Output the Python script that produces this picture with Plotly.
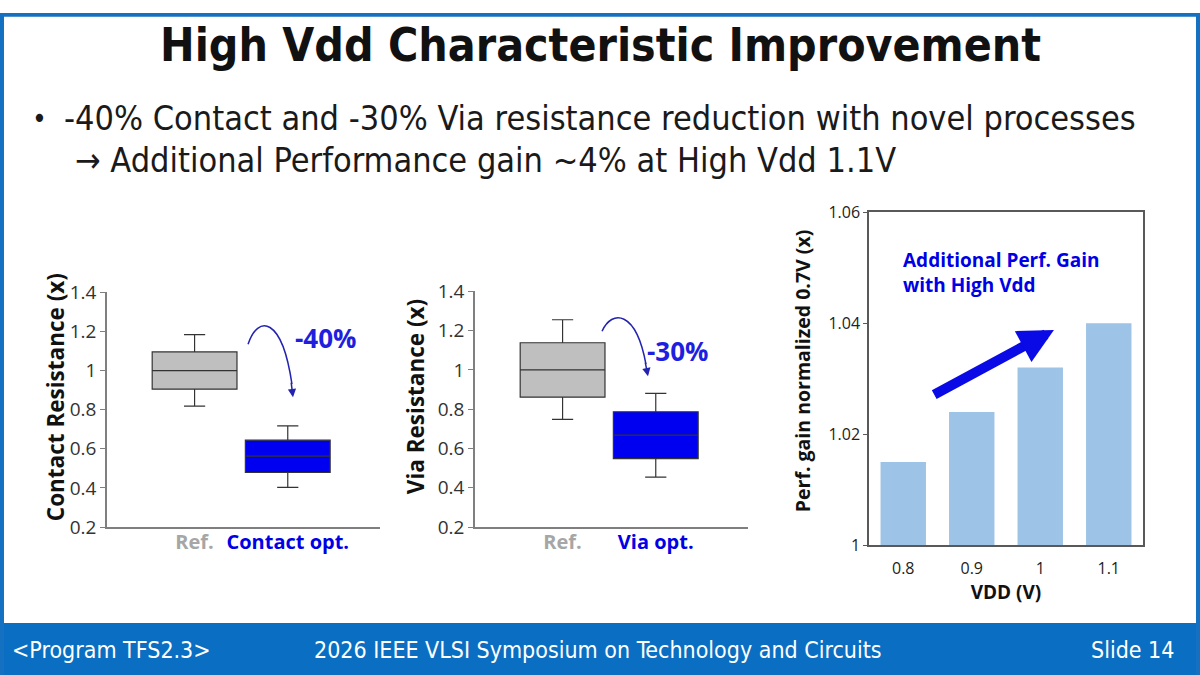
import plotly.graph_objects as go

# ---- data ----
contact_groups = ["Ref.", "Contact opt."]
contact_lower = [0.818, 0.403]
contact_q1 = [0.905, 0.479]
contact_median = [1.0, 0.563]
contact_q3 = [1.095, 0.644]
contact_upper = [1.184, 0.717]

via_groups = ["Ref.", "Via opt."]
via_lower = [0.748, 0.454]
via_q1 = [0.861, 0.548]
via_median = [1.0, 0.668]
via_q3 = [1.138, 0.787]
via_upper = [1.255, 0.880]

res_ticks = [0.2, 0.4, 0.6, 0.8, 1.0, 1.2, 1.4]
res_ticklabels = ["0.2", "0.4", "0.6", "0.8", "1", "1.2", "1.4"]

vdd = ["0.8", "0.9", "1", "1.1"]
perf_gain = [1.015, 1.024, 1.032, 1.040]
perf_ticks = [1.0, 1.02, 1.04, 1.06]
perf_ticklabels = ["1", "1.02", "1.04", "1.06"]

W = 1200
FIG_H = 688          # a little taller than the window, the extra is clipped
SLIDE_FONT = "DejaVu Sans Condensed, DejaVu Sans"
CHART_FONT = "Open Sans"
BOX_COLORS = ["#bfbfbf", "#0000f0"]
BLUE = "#0000e6"

# the photographed page comes back squeezed vertically (675 -> 650 px, centred),
# so slide positions are pre-stretched to land where they are on the slide
SQ_TOP, SQ_SCALE = 12.5, 650 / 675


def page_y(y):
    return (y - SQ_TOP) / SQ_SCALE


def px(x, y):
    """slide pixel position -> paper coords"""
    return x / W, 1 - page_y(y) / FIG_H


def py(y):
    return px(0, y)[1]


def box_traces(groups, lower, q1, med, q3, upper, xaxis, yaxis):
    traces = []
    for i, g in enumerate(groups):
        traces.append(go.Box(
            x=[g], lowerfence=[lower[i]], q1=[q1[i]], median=[med[i]],
            q3=[q3[i]], upperfence=[upper[i]],
            fillcolor=BOX_COLORS[i], line=dict(color="#333333", width=1.2),
            width=0.91, whiskerwidth=0.25, boxpoints=False,
            xaxis=xaxis, yaxis=yaxis, showlegend=False,
        ))
    return traces


fig = go.Figure()

for t in box_traces(contact_groups, contact_lower, contact_q1, contact_median,
                    contact_q3, contact_upper, "x", "y"):
    fig.add_trace(t)
for t in box_traces(via_groups, via_lower, via_q1, via_median,
                    via_q3, via_upper, "x2", "y2"):
    fig.add_trace(t)

fig.add_trace(go.Bar(
    x=vdd, y=perf_gain, marker=dict(color="#9dc3e6", line=dict(width=0)),
    xaxis="x3", yaxis="y3", showlegend=False,
))


def cat_ticks(groups):
    return [
        f"<b><span style='color:#a6a6a6'>{groups[0]}</span></b>",
        f"<b><span style='color:#0000e6'>{groups[1]}</span></b>",
    ]


res_yaxis = dict(
    range=[0.2, 1.4], tickvals=res_ticks, ticktext=res_ticklabels,
    showline=True, linecolor="#7f7f7f", linewidth=1.5, ticks="outside",
    ticklen=5, tickcolor="#7f7f7f", showgrid=False, zeroline=False,
    tickfont=dict(family=CHART_FONT, size=19, color="#333333"),
)
res_xaxis = dict(
    range=[-0.94, 1.99], showline=True, linecolor="#7f7f7f", linewidth=1.5,
    showgrid=False, zeroline=False, ticks="", ticklabelstandoff=-4, tickangle=0,
    tickfont=dict(family=CHART_FONT, size=20),
)

fig.update_layout(
    width=W, height=FIG_H,
    margin=dict(l=0, r=0, t=0, b=0),
    paper_bgcolor="white", plot_bgcolor="white",
    boxmode="overlay", bargap=0.337,
    xaxis=dict(res_xaxis, domain=[107 / W, 380 / W], anchor="y",
               tickvals=contact_groups, ticktext=cat_ticks(contact_groups)),
    yaxis=dict(res_yaxis, domain=[py(527), py(292)], anchor="x"),
    xaxis2=dict(res_xaxis, domain=[475 / W, 748 / W], anchor="y2",
                tickvals=via_groups, ticktext=cat_ticks(via_groups)),
    yaxis2=dict(res_yaxis, domain=[py(527), py(291)], anchor="x2"),
    xaxis3=dict(
        domain=[869 / W, 1143 / W], anchor="y3", range=[-0.5, 3.5],
        showline=True, mirror=True, linecolor="#595959", linewidth=1.5,
        ticks="", ticklabelstandoff=8, tickangle=0, showgrid=False, zeroline=False,
        tickfont=dict(family=CHART_FONT, size=16, color="#222222"),
        title=dict(text="<b>VDD (V)</b>", standoff=7,
                   font=dict(family=CHART_FONT, size=19, color="#111111")),
    ),
    yaxis3=dict(
        domain=[py(545), py(212)], anchor="x3", range=[1.0, 1.06],
        tickvals=perf_ticks, ticktext=perf_ticklabels,
        showline=True, mirror=True, linecolor="#595959", linewidth=1.5,
        ticks="outside", ticklen=4, tickcolor="#595959",
        showgrid=False, zeroline=False,
        tickfont=dict(family=CHART_FONT, size=16, color="#222222"),
    ),
)

ann = []
# slide title and bullets
ann.append(dict(text="<b>High Vdd Characteristic Improvement</b>", x=0.5, y=py(45),
                font=dict(family=SLIDE_FONT, size=46, color="#111111")))
ann.append(dict(text="•", x=px(30, 0)[0], y=py(118), xanchor="left",
                font=dict(family=SLIDE_FONT, size=28, color="#1a1a1a")))
ann.append(dict(text="-40% Contact and -30% Via resistance reduction with novel processes",
                x=px(62, 0)[0], y=py(118), xanchor="left",
                font=dict(family=SLIDE_FONT, size=34, color="#1a1a1a")))
ann.append(dict(text="→ Additional Performance gain ~4% at High Vdd 1.1V",
                x=px(73, 0)[0], y=py(160), xanchor="left",
                font=dict(family=SLIDE_FONT, size=34, color="#1a1a1a")))

# footer
for txt, xpos, anchor in [("&lt;Program TFS2.3&gt;", 10, "left"),
                          ("2026 IEEE VLSI Symposium on Technology and Circuits", 598, "center"),
                          ("Slide 14", 1176, "right")]:
    ann.append(dict(text=txt, x=px(xpos, 0)[0], y=py(650), xanchor=anchor,
                    font=dict(family=SLIDE_FONT, size=23, color="white")))

# axis titles of the box plots and the bar chart
ann.append(dict(text="<b>Contact Resistance (x)</b>", x=px(55, 0)[0], y=py(397),
                textangle=-90, font=dict(family=CHART_FONT, size=22.5, color="#111111")))
ann.append(dict(text="<b>Via Resistance (x)</b>", x=px(415, 0)[0], y=py(397),
                textangle=-90, font=dict(family=CHART_FONT, size=22.5, color="#111111")))
ann.append(dict(text="<b>Perf. gain normalized 0.7V (x)</b>", x=px(802, 0)[0], y=py(371),
                textangle=-90, font=dict(family=CHART_FONT, size=19.5, color="#111111")))

# reduction labels
ann.append(dict(text="<b>-40%</b>", x=px(326, 0)[0], y=py(338),
                font=dict(family=CHART_FONT, size=26, color="#1f1fe0")))
ann.append(dict(text="<b>-30%</b>", x=px(678, 0)[0], y=py(351),
                font=dict(family=CHART_FONT, size=26, color="#1f1fe0")))

# heads of the curved arrows
for tx, ty, dx, dy in [(293, 397, -2, -16), (648, 376, -3, -15)]:
    ann.append(dict(text="", x=px(tx, 0)[0], y=py(ty), ax=dx, ay=dy,
                    showarrow=True, arrowhead=2, arrowsize=1.1, arrowwidth=1.5,
                    arrowcolor="#2323b0"))

# bar chart note + trend arrow
ann.append(dict(text="<b>Additional Perf. Gain<br>with High Vdd</b>", x=px(901, 0)[0],
                y=py(272), xanchor="left", align="left",
                font=dict(family=CHART_FONT, size=19, color=BLUE)))
ann.append(dict(text="", xref="x3", yref="y3", axref="x3", ayref="y3",
                x=2.2, y=1.0388, ax=0.43, ay=1.0270,
                showarrow=True, arrowhead=2, arrowsize=0.7, arrowwidth=10,
                arrowcolor="#0a0ae6"))

for a in ann:
    a.setdefault("xref", "paper")
    a.setdefault("yref", "paper")
    a.setdefault("showarrow", False)
    a.setdefault("xanchor", "center")
    a.setdefault("yanchor", "middle")
fig.update_layout(annotations=ann)


def curve_path(p0, c1, c2, p1):
    pts = [px(*p) for p in (p0, c1, c2, p1)]
    return "M {:.4f},{:.4f} C {:.4f},{:.4f} {:.4f},{:.4f} {:.4f},{:.4f}".format(
        *[v for p in pts for v in p])


shapes = [
    # footer band and slide frame
    dict(type="rect", x0=0, x1=1, y0=0, y1=py(623), fillcolor="#0a6fc2", line_width=0),
    dict(type="rect", x0=0, x1=1, y0=1 - 4 / FIG_H, y1=1, fillcolor="#1470c0", line_width=0),
    dict(type="rect", x0=0, x1=4 / W, y0=0, y1=1, fillcolor="#1470c0", line_width=0),
    dict(type="rect", x0=1 - 4 / W, x1=1, y0=0, y1=1, fillcolor="#1470c0", line_width=0),
    # curved arrows
    dict(type="path", path=curve_path((248, 344), (258, 314), (282, 316), (292, 384)),
         line=dict(color="#2323b0", width=1.5)),
    dict(type="path", path=curve_path((602, 331), (612, 309), (636, 310), (646, 364)),
         line=dict(color="#2323b0", width=1.5)),
]
for s in shapes:
    s["xref"] = "paper"
    s["yref"] = "paper"
    s["layer"] = "above"
fig.update_layout(shapes=shapes)

# pin the slide to the top-left corner of the page, nothing else on it
pin_page = """
var de = document.documentElement.style; de.overflow = 'hidden'; de.height = '%dpx';
var b = document.body.style; b.margin = '0'; b.overflow = 'hidden'; b.height = '%dpx';
var g = document.getElementById('{plot_id}').style;
g.position = 'fixed'; g.top = '0'; g.left = '0';
""" % (FIG_H, FIG_H)
fig.write_html("out.html", config={"displayModeBar": False}, post_script=pin_page)
